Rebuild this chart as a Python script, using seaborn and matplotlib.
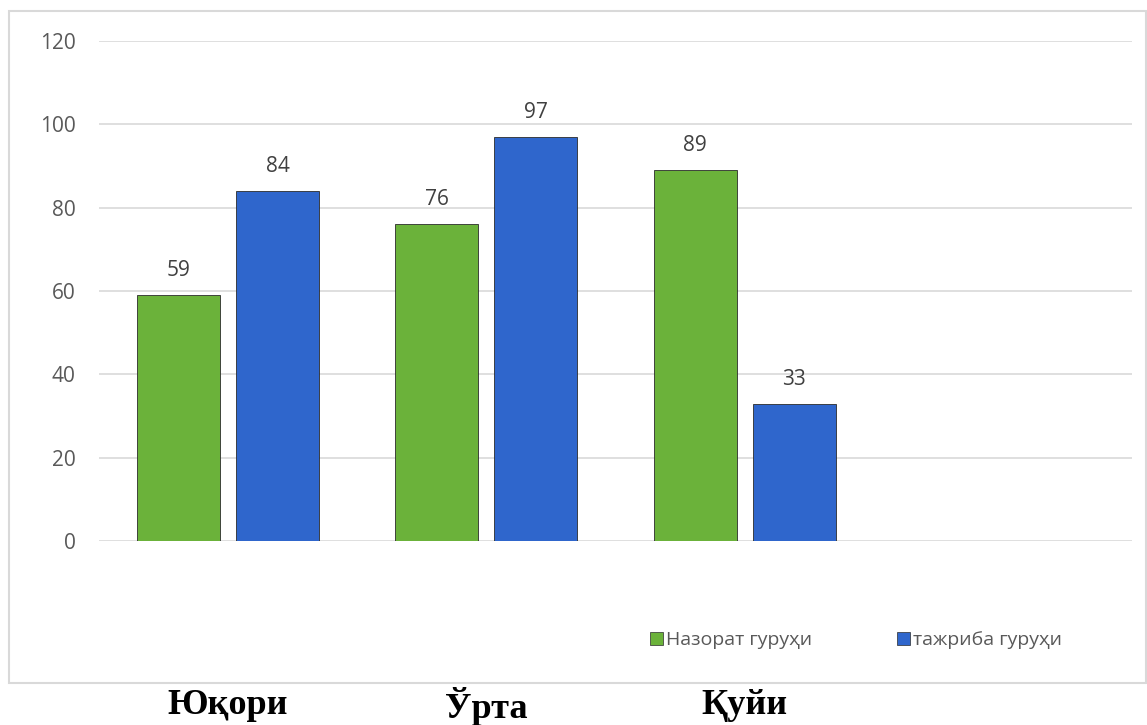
import numpy as np
import pandas as pd
import matplotlib
matplotlib.use("Agg")
import matplotlib.pyplot as plt
import matplotlib.transforms as mtransforms
import seaborn as sns
from matplotlib.patches import Rectangle, Patch

# данные
levels = ["Юқори", "Ўрта", "Қуйи"]
control = [59, 76, 89]
experiment = [84, 97, 33]
groups = ["Назорат гуруҳи", "тажриба гуруҳи"]
yticks = [0, 20, 40, 60, 80, 100, 120]

df = pd.DataFrame({
    "level": levels * 2,
    "group": [groups[0]] * 3 + [groups[1]] * 3,
    "value": control + experiment,
})

sns.set_style("white")
plt.rcParams["font.family"] = ["Open Sans", "DejaVu Sans"]

colors = {groups[0]: "#6BB23A", groups[1]: "#2F66CC"}

fig = plt.figure(figsize=(11.47, 7.25), dpi=100)
W, H = 1147, 725
ax = fig.add_axes([99 / W, 1 - 541 / H, (1132 - 99) / W, (541 - 41) / H])

order = levels + [" "]
sns.barplot(data=df, x="level", y="value", hue="group", order=order,
            hue_order=groups, palette=colors, saturation=1, width=0.767, gap=0.16,
            edgecolor="#2b2b2b", linewidth=0.6, ax=ax, legend=False)

for c in ax.containers:
    ax.bar_label(c, fmt="%d", padding=10, fontsize=15, color="#404040")

ax.set_ylim(0, 120)
ax.set_yticks(yticks)
ax.yaxis.grid(True, color="#D9D9D9", linewidth=1.2)
ax.set_axisbelow(True)
for s in ax.spines.values():
    s.set_visible(False)
ax.tick_params(axis="y", length=0, pad=17, labelsize=15, labelcolor="#595959")
ax.set_xlabel("")
ax.set_ylabel("")
ax.set_xticks([])

# подписи категорий под рамкой
blend = mtransforms.blended_transform_factory(ax.transData, fig.transFigure)
for i, lv in enumerate(levels):
    ax.text(i, 1 - 706 / H, lv, transform=blend,
            ha="center", va="center", fontsize=26, fontweight="bold",
            family=["Liberation Serif", "DejaVu Serif"], color="black")

# рамка диаграммы
fig.patches.append(Rectangle((9 / W, 1 - 683 / H), (1146 - 9) / W, (683 - 11) / H,
                             transform=fig.transFigure, fill=False,
                             edgecolor="#D9D9D9", linewidth=1.5))

handles = [Patch(facecolor=colors[g], edgecolor="#2b2b2b", linewidth=0.5) for g in groups]
fig.legend(handles, groups, loc="center", bbox_to_anchor=(856 / W, 1 - 640 / H),
           ncol=2, frameon=False, fontsize=14, handlelength=0.65, handleheight=0.65,
           handletextpad=0.15, columnspacing=4.4, labelcolor="#595959")

fig.savefig("out.png", dpi=100)
